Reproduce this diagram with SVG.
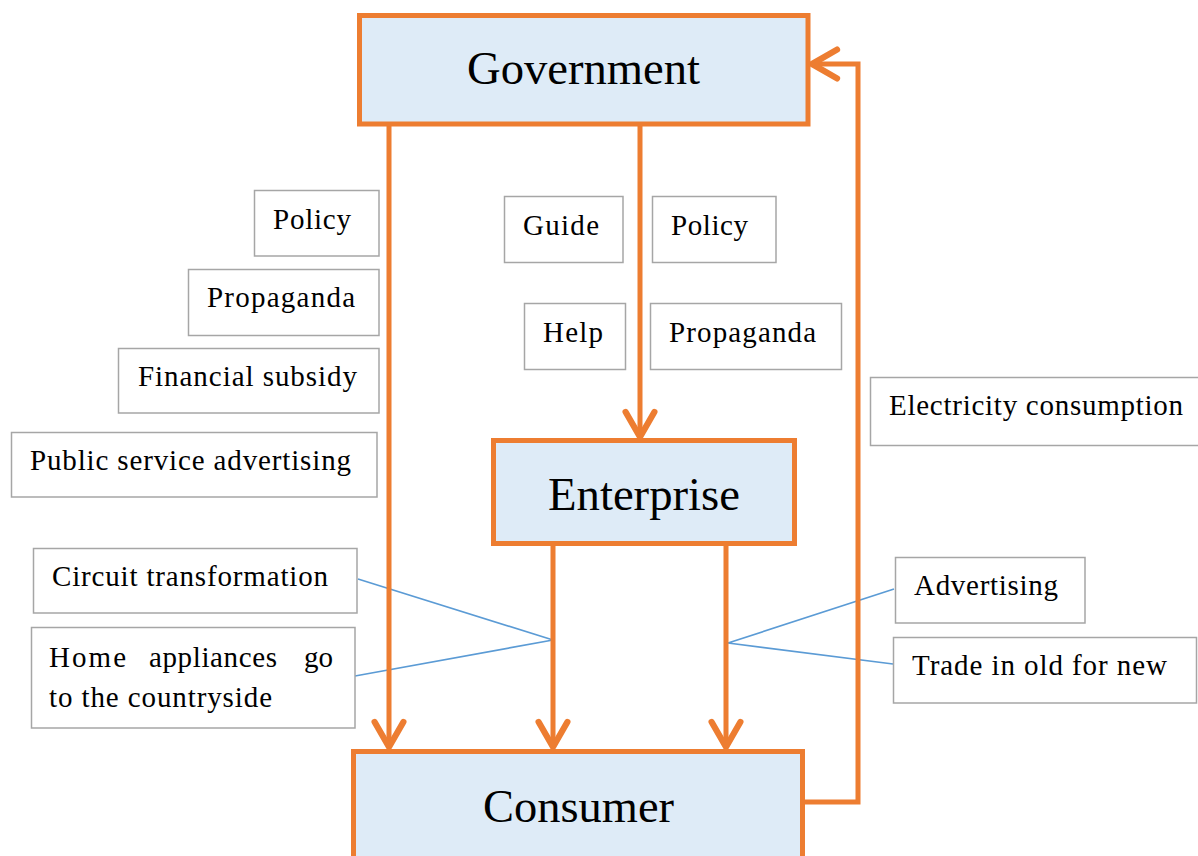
<svg xmlns="http://www.w3.org/2000/svg" width="1198" height="856" viewBox="0 0 1198 856">
  <style>
    .main { fill: #DEEBF7; stroke: #ED7D31; stroke-width: 5; }
    .main-text { font-family: "Liberation Serif", "Times New Roman", serif; font-size: 46px; fill: #000; }
    .tag { fill: #FFFFFF; stroke: #A6A6A6; stroke-width: 1.5; }
    .tag-text { font-family: "Liberation Serif", "Times New Roman", serif; font-size: 29px; fill: #000; }
    .flow { fill: none; stroke: #ED7D31; stroke-width: 5; }
    .link { fill: none; stroke: #5B9BD5; stroke-width: 1.6; }
  </style>
  <defs>
    <marker id="open-arrow" markerUnits="userSpaceOnUse" orient="auto" refX="0" refY="0" markerWidth="40" markerHeight="40" viewBox="-26 -16 30 32" overflow="visible">
      <path d="M -20 -11.5 L 0 0 L -20 11.5" fill="none" stroke="#ED7D31" stroke-width="5" stroke-linecap="round" stroke-linejoin="round"/>
    </marker>
  </defs>

  <rect width="1198" height="856" fill="#FFFFFF"/>

  <!-- thin blue leader lines from the side labels -->
  <g id="leaders">
    <path class="link" d="M 358 579 L 553 640 L 355 676"/>
    <path class="link" d="M 894 589 L 728 643 L 893 664"/>
  </g>

  <!-- orange flow arrows -->
  <g id="connectors">
    <path class="flow" d="M 389 126 V 747" marker-end="url(#open-arrow)"/>
    <path class="flow" d="M 640 126 V 437" marker-end="url(#open-arrow)"/>
    <path class="flow" d="M 553 546 V 747" marker-end="url(#open-arrow)"/>
    <path class="flow" d="M 726 546 V 747" marker-end="url(#open-arrow)"/>
    <path class="flow" d="M 805 802 H 858 V 64 H 812" marker-end="url(#open-arrow)"/>
  </g>

  <g id="government">
    <rect class="main" x="359.5" y="15.5" width="448.5" height="108.5"/>
    <text class="main-text" x="467" y="84" textLength="233" lengthAdjust="spacingAndGlyphs">Government</text>
  </g>

  <g id="enterprise">
    <rect class="main" x="493.5" y="440.5" width="301" height="103"/>
    <text class="main-text" x="548" y="510" textLength="192" lengthAdjust="spacingAndGlyphs">Enterprise</text>
  </g>

  <g id="consumer">
    <rect class="main" x="353.5" y="751.5" width="449" height="130"/>
    <text class="main-text" x="483" y="822" textLength="191" lengthAdjust="spacingAndGlyphs">Consumer</text>
  </g>

  <!-- labels beside the Government to Consumer arrow -->
  <g id="policy-left">
    <rect class="tag" x="254.5" y="190.5" width="124.5" height="65.5"/>
    <text class="tag-text" x="273" y="229" textLength="78" lengthAdjust="spacing">Policy</text>
  </g>
  <g id="propaganda-left">
    <rect class="tag" x="188.5" y="269.5" width="190.5" height="66"/>
    <text class="tag-text" x="207" y="307" textLength="148" lengthAdjust="spacing">Propaganda</text>
  </g>
  <g id="financial-subsidy">
    <rect class="tag" x="118.5" y="348.5" width="260.5" height="64.5"/>
    <text class="tag-text" x="138" y="386" textLength="219" lengthAdjust="spacing">Financial subsidy</text>
  </g>
  <g id="public-service-advertising">
    <rect class="tag" x="11.5" y="432.5" width="365.5" height="64.5"/>
    <text class="tag-text" x="30" y="470" textLength="321" lengthAdjust="spacing">Public service advertising</text>
  </g>

  <!-- labels beside the Government to Enterprise arrow -->
  <g id="guide">
    <rect class="tag" x="504.5" y="196.5" width="118.5" height="66"/>
    <text class="tag-text" x="523" y="235" textLength="76" lengthAdjust="spacing">Guide</text>
  </g>
  <g id="policy-mid">
    <rect class="tag" x="652.5" y="196.5" width="123.5" height="66"/>
    <text class="tag-text" x="671" y="235" textLength="77" lengthAdjust="spacing">Policy</text>
  </g>
  <g id="help">
    <rect class="tag" x="524.5" y="303.5" width="101" height="66"/>
    <text class="tag-text" x="543" y="342" textLength="60" lengthAdjust="spacing">Help</text>
  </g>
  <g id="propaganda-mid">
    <rect class="tag" x="650.5" y="303.5" width="191" height="66"/>
    <text class="tag-text" x="669" y="342" textLength="147" lengthAdjust="spacing">Propaganda</text>
  </g>

  <!-- label beside the Consumer to Government feedback -->
  <g id="electricity-consumption">
    <rect class="tag" x="870.5" y="377.5" width="340" height="68"/>
    <text class="tag-text" x="889" y="415" textLength="294" lengthAdjust="spacing">Electricity consumption</text>
  </g>

  <!-- labels tied to the Government to Consumer flow -->
  <g id="circuit-transformation">
    <rect class="tag" x="33.5" y="548.5" width="323.5" height="64.5"/>
    <text class="tag-text" x="52" y="586" textLength="276" lengthAdjust="spacing">Circuit transformation</text>
  </g>
  <g id="home-appliances">
    <rect class="tag" x="31.5" y="627.5" width="323.5" height="100.5"/>
    <text class="tag-text" x="49" y="667" textLength="77" lengthAdjust="spacing">Home</text>
    <text class="tag-text" x="149" y="667" textLength="128" lengthAdjust="spacing">appliances</text>
    <text class="tag-text" x="304" y="667" textLength="29" lengthAdjust="spacing">go</text>
    <text class="tag-text" x="49" y="707" textLength="223" lengthAdjust="spacing">to the countryside</text>
  </g>

  <!-- labels tied to the Enterprise to Consumer flow -->
  <g id="advertising">
    <rect class="tag" x="895.5" y="557.5" width="189.5" height="65.5"/>
    <text class="tag-text" x="914" y="595" textLength="144" lengthAdjust="spacing">Advertising</text>
  </g>
  <g id="trade-in">
    <rect class="tag" x="893.5" y="637.5" width="303" height="65.5"/>
    <text class="tag-text" x="912" y="675" textLength="255" lengthAdjust="spacing">Trade in old for new</text>
  </g>
</svg>
